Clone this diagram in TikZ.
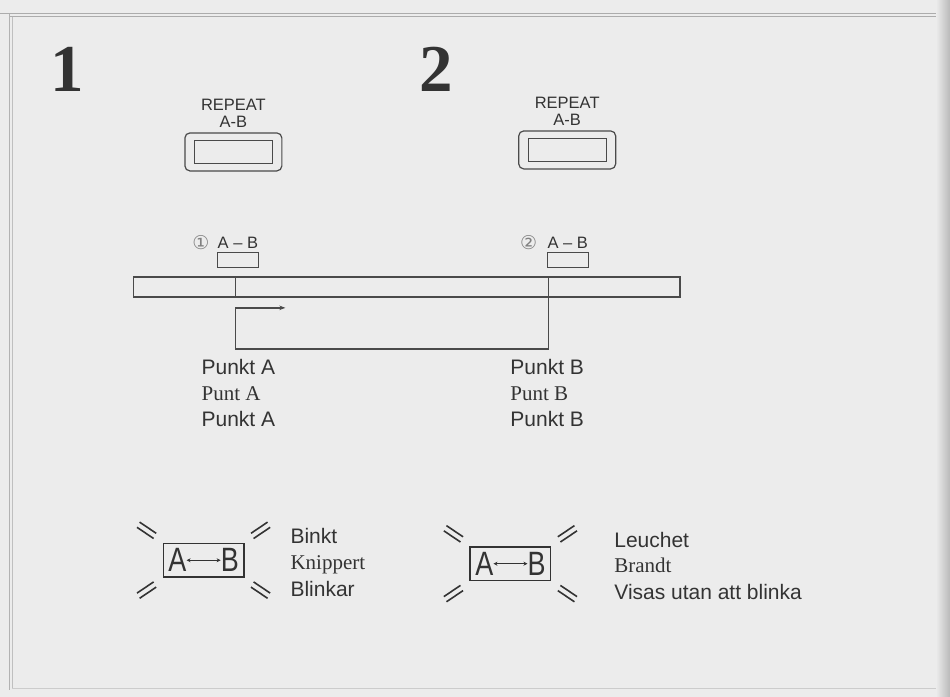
\documentclass[tikz,border=0pt]{standalone}
\usepackage{fontspec}
\setmainfont{Liberation Serif}
\setsansfont{Liberation Sans}
\newfontfamily\circfont{DejaVu Sans}
\usetikzlibrary{arrows.meta,positioning,fit}
\definecolor{paper}{HTML}{ECECEC}
\definecolor{ink}{HTML}{333333}
\definecolor{rule}{HTML}{4A4A4A}
\newcommand{\tall}[1]{\scalebox{1}[1.25]{#1}}

\begin{document}
\begin{tikzpicture}[x=1pt,y=-1pt,
  sans/.style={font=\sffamily\fontsize{21}{24}\selectfont,text=ink,inner sep=0pt,anchor=base west},
  serif/.style={font=\rmfamily\fontsize{21}{24}\selectfont,text=ink,inner sep=0pt,anchor=base west},
  small/.style={font=\sffamily\fontsize{16.5}{17}\selectfont,text=ink,inner sep=0pt},
  stepno/.style={font=\rmfamily\bfseries\fontsize{67}{67}\selectfont,text=ink,inner sep=0pt,anchor=base west},
  key/.style={draw=rule,line width=1.2pt,rounded corners=5pt,minimum width=97pt,minimum height=38pt,inner sep=0pt},
  keytop/.style={draw=rule,line width=1.3pt,minimum width=78pt,minimum height=23pt,inner sep=0pt},
  marker/.style={draw=rule,line width=1.1pt,minimum width=41pt,minimum height=15pt,inner sep=0pt},
  circnum/.style={font=\circfont\fontsize{19}{19}\selectfont,text=gray,inner sep=0pt},
  lcd/.style={font=\sffamily\fontsize{27}{27}\selectfont,text=ink,inner sep=0pt},
  ray/.style={draw=ink,line width=1.6pt},
  line/.style={draw=rule,line width=1.4pt},
  >={Stealth[length=6pt,width=4.5pt]}]

% page and frame
\fill[paper] (0,0) rectangle (950,697);
\draw[gray!65,line width=1pt] (0,14) -- (945,14);
\draw[gray!65,line width=1pt] (9,17) -- (945,17);
\draw[gray!60,line width=1.5pt] (9,14) -- (9,690);
\draw[gray!50,line width=0.8pt] (12,17) -- (12,688);
\draw[gray!40,line width=0.8pt] (12,689) -- (945,689);
\shade[left color=paper,right color=gray!55] (936,0) rectangle (950,697);

% step numbers
\node[stepno] (n1) at (50,92) {1};
\node[stepno] (n2) at (419,92) {2};

% REPEAT A-B keys
\node[key] (key1) at (233,152) {};
\node[keytop] (key1in) at (key1.center) {};
\node[small,align=center,anchor=south] (rep1) at ([yshift=5pt]key1.north) {REPEAT\\A-B};
\node[key] (key2) at (567,150) {};
\node[keytop] (key2in) at (key2.center) {};
\node[small,align=center,anchor=south] (rep2) at ([yshift=5pt]key2.north) {REPEAT\\A-B};

% tape with points A and B
\node[marker] (m1) at (237.5,260.5) {};
\node[small,above=4pt of m1] (l1) {A -- B};
\node[circnum,left=8pt of l1] (c1) {①};
\node[marker] (m2) at (567.5,260.5) {};
\node[small,above=4pt of m2] (l2) {A -- B};
\node[circnum,left=10pt of l2] (c2) {②};

\node[draw=rule,line width=1.4pt,minimum width=547pt,minimum height=20pt,inner sep=0pt] (tape) at (406.5,287) {};
\coordinate (pa) at (235,308);
\coordinate (pb) at (548,349);
\draw[line] (tape.north -| pa) -- (tape.south -| pa);
\draw[line,->] (tape.north -| pb) -- (pb) -| (pa) -- ++(50,0);

\node[sans] (pa1) at (201,375) {Punkt A};
\node[serif] (pa2) at ([yshift=-26pt]pa1.base west) {Punt A};
\node[sans] (pa3) at ([yshift=-26pt]pa2.base west) {Punkt A};
\node[sans] (pb1) at (510,375) {Punkt B};
\node[serif] (pb2) at ([yshift=-26pt]pb1.base west) {Punt B};
\node[sans] (pb3) at ([yshift=-26pt]pb2.base west) {Punkt B};

% displays
\node[lcd] (a1) at (177,560.5) {\tall{A}};
\node[lcd,right=34pt of a1] (b1) {\tall{B}};
\draw[ink,line width=1pt,{Stealth[length=4pt,width=4pt]}-{Stealth[length=4pt,width=4pt]}] (a1) -- (b1);
\node[draw=ink,line width=1.2pt,inner xsep=5pt,inner ysep=5pt,fit=(a1)(b1)] (lcd1) {};

\node[lcd] (a2) at (484,564) {\tall{A}};
\node[lcd,right=34pt of a2] (b2) {\tall{B}};
\draw[ink,line width=1pt,{Stealth[length=4pt,width=4pt]}-{Stealth[length=4pt,width=4pt]}] (a2) -- (b2);
\node[draw=ink,line width=1.2pt,inner xsep=5pt,inner ysep=5pt,fit=(a2)(b2)] (lcd2) {};

\foreach \d in {lcd1,lcd2}
  \foreach \sx/\sy/\cn in {-1/-1/north west,1/-1/north east,-1/1/south west,1/1/south east}
    \draw[ray] ([shift={(\sx*16,\sy*12.5)}]\d.\cn)
      +({\sx*7},{\sy*8.2}) -- +({\sx*(-9.6)},{\sy*(-3)})
      +({\sx*9.6},{\sy*3}) -- +({\sx*(-7)},{\sy*(-8.2)});

\node[sans] (t1) at (290,544) {Binkt};
\node[serif] (t2) at ([yshift=-26pt]t1.base west) {Knippert};
\node[sans] (t3) at ([yshift=-27pt]t2.base west) {Blinkar};
\node[sans] (u1) at (614,548) {Leuchet};
\node[serif] (u2) at ([yshift=-25pt]u1.base west) {Brandt};
\node[sans] (u3) at ([yshift=-27pt]u2.base west) {Visas utan att blinka};
\end{tikzpicture}
\end{document}
